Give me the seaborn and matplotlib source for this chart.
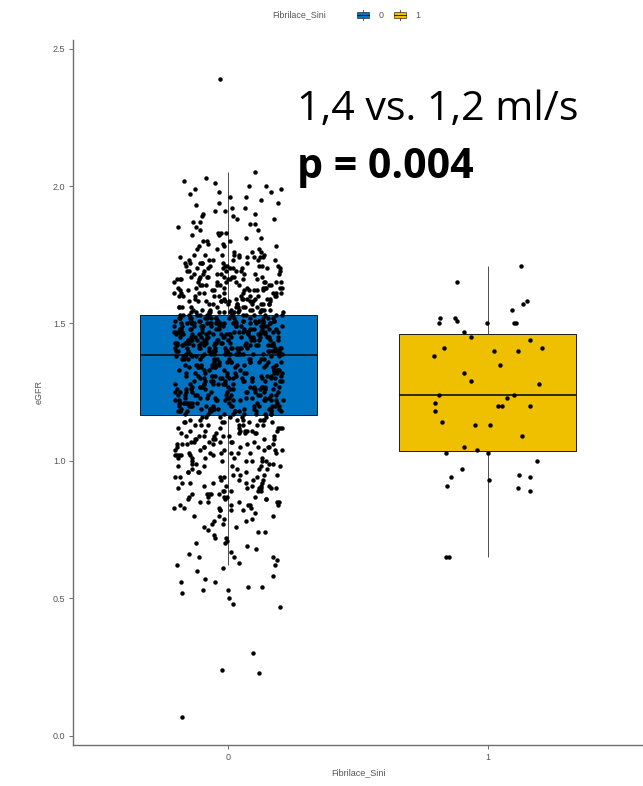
import numpy as np
import pandas as pd
import matplotlib
matplotlib.use("Agg")
import matplotlib.pyplot as plt
import seaborn as sns
from matplotlib.patches import Rectangle
from matplotlib.lines import Line2D
from matplotlib.legend_handler import HandlerBase

# ---------------- data ----------------
categories = ["0", "1"]
box_colors = ["#0073C2", "#EFC000"]

# group 0: low outliers, body as (level, count) frequency table, high outlier
egfr0_low = [0.07, 0.23, 0.24, 0.30, 0.47, 0.48, 0.50, 0.52, 0.53, 0.53,
             0.54, 0.54, 0.56, 0.56, 0.57, 0.58, 0.60, 0.61]
egfr0_levels = [
    0.62, 0.63, 0.64, 0.65, 0.66, 0.67, 0.68, 0.69, 0.70, 0.71,
    0.72, 0.73, 0.74, 0.75, 0.76, 0.77, 0.78, 0.79, 0.80, 0.81,
    0.82, 0.83, 0.84, 0.85, 0.86, 0.87, 0.88, 0.89, 0.90, 0.91,
    0.92, 0.93, 0.94, 0.95, 0.96, 0.97, 0.98, 0.99, 1.00, 1.01,
    1.02, 1.03, 1.04, 1.05, 1.06, 1.07, 1.08, 1.09, 1.10, 1.11,
    1.12, 1.13, 1.14, 1.15, 1.16, 1.17, 1.18, 1.19, 1.20, 1.21,
    1.22, 1.23, 1.24, 1.25, 1.26, 1.27, 1.28, 1.29, 1.30, 1.31,
    1.32, 1.33, 1.34, 1.35, 1.36, 1.37, 1.38, 1.39, 1.40, 1.41,
    1.42, 1.43, 1.44, 1.45, 1.46, 1.47, 1.48, 1.49, 1.50, 1.51,
    1.52, 1.53, 1.54, 1.55, 1.56, 1.57, 1.58, 1.59, 1.60, 1.61,
    1.62, 1.63, 1.64, 1.65, 1.66, 1.67, 1.68, 1.69, 1.70, 1.71,
    1.72, 1.73, 1.74, 1.75, 1.76, 1.77, 1.78, 1.79, 1.80, 1.81,
    1.82, 1.83, 1.84, 1.85, 1.86, 1.87, 1.88, 1.89, 1.90, 1.91,
    1.92, 1.93, 1.94, 1.95, 1.96, 1.97, 1.98, 1.99, 2.00, 2.01,
    2.02, 2.03, 2.05,
]
egfr0_counts = [
    2, 1, 1, 3, 1, 1, 1, 1, 2, 1,
    2, 1, 2, 1, 2, 2, 2, 2, 3, 1,
    4, 4, 5, 5, 4, 5, 5, 5, 6, 5,
    5, 4, 5, 4, 5, 4, 5, 4, 6, 5,
    6, 7, 6, 7, 6, 7, 6, 7, 6, 7,
    6, 7, 6, 7, 6, 9, 12, 12, 13, 12,
    12, 11, 11, 11, 11, 11, 11, 11, 12, 11,
    10, 11, 10, 11, 10, 11, 9, 16, 18, 16,
    15, 17, 15, 17, 15, 17, 15, 16, 19, 16,
    15, 15, 11, 11, 10, 10, 10, 9, 10, 9,
    9, 9, 8, 9, 8, 8, 7, 7, 8, 7,
    7, 6, 6, 6, 3, 3, 3, 2, 3, 2,
    2, 3, 2, 2, 2, 2, 2, 2, 2, 2,
    2, 1, 2, 1, 2, 1, 2, 2, 2, 1,
    1, 1, 1,
]
egfr0_high = [2.39]

egfr1 = [1.71, 1.65, 1.57, 1.58, 1.55, 1.52, 1.51, 1.52, 1.50, 1.50,
         1.50, 1.50, 1.47, 1.45, 1.44, 1.41, 1.41, 1.40, 1.40, 1.38,
         1.35, 1.32, 1.29, 1.28, 1.24, 1.24, 1.23, 1.21, 1.20, 1.20,
         1.20, 1.18, 1.14, 1.13, 1.13, 1.09, 1.05, 1.04, 1.03, 1.03,
         1.00, 0.97, 0.95, 0.94, 0.94, 0.93, 0.91, 0.90, 0.89, 0.65,
         0.65]

y_ticks = [0.0, 0.5, 1.0, 1.5, 2.0, 2.5]
y_ticklabels = ["0.0", "0.5", "1.0", "1.5", "2.0", "2.5"]

# ---------------- build frame ----------------
egfr0 = np.concatenate([egfr0_low, np.repeat(egfr0_levels, egfr0_counts), egfr0_high])
df = pd.DataFrame({
    "Fibrilace_Sini": ["0"] * len(egfr0) + ["1"] * len(egfr1),
    "eGFR": np.concatenate([egfr0, egfr1]),
})

# ---------------- figure ----------------
W, H = 643, 786
fig = plt.figure(figsize=(W / 100, H / 100), dpi=100)
fig.patch.set_facecolor("white")
ax = fig.add_axes([73 / W, 1 - 745 / H, (643 - 73) / W, (745 - 40) / H])
ax.set_facecolor("white")

sns.boxplot(data=df, x="Fibrilace_Sini", y="eGFR", hue="Fibrilace_Sini",
            order=categories, hue_order=categories, palette=box_colors,
            saturation=1, width=0.68, showfliers=False, whis=1.5,
            linecolor="#1a1a1a", linewidth=0.7, legend=False, ax=ax,
            whiskerprops={"color": "#4d4d4d", "linewidth": 0.7},
            capprops={"alpha": 0},
            medianprops={"color": "#111111", "linewidth": 1.2})

np.random.seed(7)
sns.stripplot(data=df, x="Fibrilace_Sini", y="eGFR", order=categories,
              color="black", size=3.2, jitter=0.21, linewidth=0,
              ax=ax, zorder=4)

ax.set_xlim(-0.6, 1.6)
ax.set_ylim(-0.033, 2.531)
ax.set_yticks(y_ticks)
ax.set_yticklabels(y_ticklabels)

for side in ["top", "right"]:
    ax.spines[side].set_visible(False)
for side in ["left", "bottom"]:
    ax.spines[side].set_color("#6e6e6e")
    ax.spines[side].set_linewidth(1.0)

ax.tick_params(axis="both", colors="#6e6e6e", length=3, width=0.7,
               labelsize=6.5, labelcolor="#555555", pad=2.5)
ax.grid(False)

ax.set_xlabel("Fibrilace_Sini", fontsize=6.5, color="#555555", labelpad=5,
              family="Liberation Sans")
ax.set_ylabel("eGFR", fontsize=6.5, color="#555555", labelpad=7,
              family="Liberation Sans")
for lab in ax.get_xticklabels() + ax.get_yticklabels():
    lab.set_family("Liberation Sans")

# ---------------- legend at top ----------------
class BoxKeyHandler(HandlerBase):
    def create_artists(self, legend, orig_handle, xdescent, ydescent,
                       width, height, fontsize, trans):
        x0, y0 = -xdescent, -ydescent
        fc = orig_handle.get_facecolor()
        whisk = Line2D([x0 + width / 2, x0 + width / 2], [y0, y0 + height],
                       color="#333333", lw=0.6, transform=trans)
        rect = Rectangle((x0 + width * 0.1, y0 + height * 0.2), width * 0.8,
                         height * 0.6, facecolor=fc, edgecolor="#333333",
                         lw=0.5, transform=trans)
        med = Line2D([x0 + width * 0.1, x0 + width * 0.9],
                     [y0 + height / 2, y0 + height / 2],
                     color="#111111", lw=0.6, transform=trans)
        return [whisk, rect, med]

handles = [Rectangle((0, 0), 1, 1, facecolor=c) for c in box_colors]
fig.text(272 / W, 1 - 15 / H, "Fibrilace_Sini", fontsize=6.4, color="#555555",
         ha="left", va="center", family="Liberation Sans")
leg = fig.legend(handles, categories, loc="center left",
                 bbox_to_anchor=(348 / W, 1 - 15 / H), ncol=2, frameon=False,
                 handlelength=1.6, handleheight=1.3,
                 handletextpad=0.9, columnspacing=1.1,
                 handler_map={Rectangle: BoxKeyHandler()},
                 prop={"family": "Liberation Sans", "size": 6.4})
for t in leg.get_texts():
    t.set_color("#555555")

# ---------------- annotation ----------------
fig.text(297 / W, 1 - 120 / H, "1,4 vs. 1,2 ml/s", fontsize=29.6,
         family="Open Sans", color="black", ha="left", va="baseline")
fig.text(297 / W, 1 - 178 / H, "p = 0.004", fontsize=29.6, fontweight="bold",
         family="Open Sans", color="black", ha="left", va="baseline")

fig.savefig("out.png", dpi=100, facecolor="white")
